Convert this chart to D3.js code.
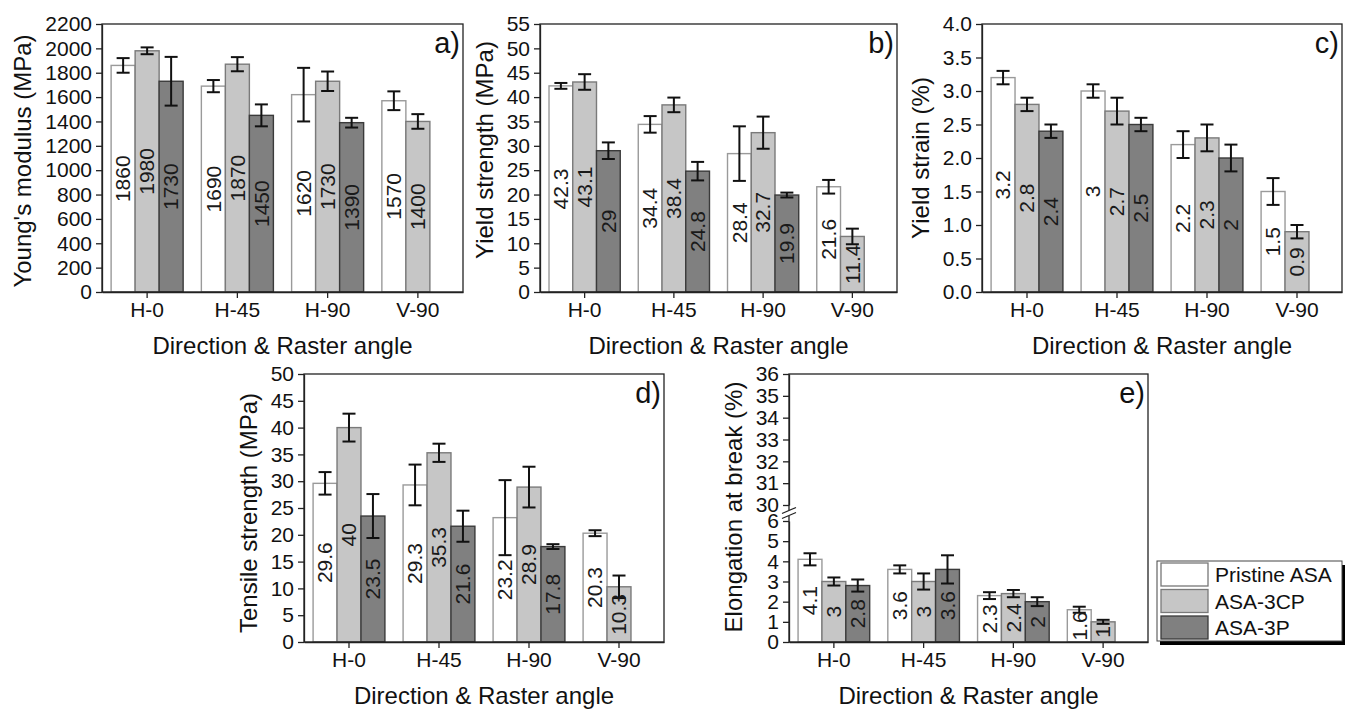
<!DOCTYPE html>
<html>
<head>
<meta charset="utf-8">
<script src="https://cdn.jsdelivr.net/npm/d3@7"></script>
<style>
  html, body { margin: 0; padding: 0; background: #fff; }
  svg { display: block; font-family: "Liberation Sans", Arial, sans-serif; }
</style>
</head>
<body>
<svg id="chart" width="1349" height="711"></svg>
<script>
// ---------------- DATA ----------------
const categories = ["H-0", "H-45", "H-90", "V-90"];
const seriesNames = ["Pristine ASA", "ASA-3CP", "ASA-3P"];
const xTitle = "Direction & Raster angle";

// a) Young's modulus (MPa)
const youngPristine = [1860, 1690, 1620, 1570];
const youngCP       = [1980, 1870, 1730, 1400];
const youngP        = [1730, 1450, 1390, null];
const youngPristineErr = [60, 50, 220, 77];
const youngCPErr       = [28, 58, 80, 60];
const youngPErr        = [200, 90, 40, null];
const youngTicks = [0, 200, 400, 600, 800, 1000, 1200, 1400, 1600, 1800, 2000, 2200];

// b) Yield strength (MPa)
const ysPristine = [42.3, 34.4, 28.4, 21.6];
const ysCP       = [43.1, 38.4, 32.7, 11.4];
const ysP        = [29, 24.8, 19.9, null];
const ysPristineErr = [0.6, 1.7, 5.6, 1.4];
const ysCPErr       = [1.6, 1.5, 3.3, 1.6];
const ysPErr        = [1.7, 1.9, 0.5, null];
const ysTicks = [0, 5, 10, 15, 20, 25, 30, 35, 40, 45, 50, 55];

// c) Yield strain (%)
const yePristine = [3.2, 3, 2.2, 1.5];
const yeCP       = [2.8, 2.7, 2.3, 0.9];
const yeP        = [2.4, 2.5, 2, null];
const yePristineErr = [0.1, 0.1, 0.2, 0.2];
const yeCPErr       = [0.1, 0.2, 0.2, 0.1];
const yePErr        = [0.1, 0.1, 0.2, null];
const yeTicks = [0, 0.5, 1, 1.5, 2, 2.5, 3, 3.5, 4];

// d) Tensile strength (MPa)
const tsPristine = [29.6, 29.3, 23.2, 20.3];
const tsCP       = [40, 35.3, 28.9, 10.3];
const tsP        = [23.5, 21.6, 17.8, null];
const tsPristineErr = [2.1, 3.8, 7, 0.55];
const tsCPErr       = [2.6, 1.7, 3.8, 2.1];
const tsPErr        = [4.1, 2.9, 0.45, null];
const tsTicks = [0, 5, 10, 15, 20, 25, 30, 35, 40, 45, 50];

// e) Elongation at break (%) - broken axis
const ebPristine = [4.1, 3.6, 2.3, 1.6];
const ebCP       = [3, 3, 2.4, 1];
const ebP        = [2.8, 3.6, 2, null];
const ebPristineErr = [0.3, 0.2, 0.17, 0.15];
const ebCPErr       = [0.2, 0.4, 0.18, 0.1];
const ebPErr        = [0.3, 0.7, 0.22, null];
const ebTicksLow  = [0, 1, 2, 3, 4, 5, 6];
const ebTicksHigh = [30, 31, 32, 33, 34, 35, 36];

// ---------------- STYLE ----------------
const FONT = 21;
const fills   = ["#ffffff", "#c6c6c6", "#808080"];
const strokes = ["#9a9a9a", "#7a7a7a", "#3a3a3a"];
const svg = d3.select("#chart");

function panel(cfg) {
  const g = svg.append("g");
  const { left, right, top, bottom } = cfg.box;
  const x = d3.scaleBand().domain(categories).range([left, right]).padding(0);
  const bw = x.bandwidth() * 0.266;

  // y mapping (supports broken axis)
  let yMap, yAxes = [];
  if (cfg.broken) {
    const yLow = d3.scaleLinear().domain([0, 6]).range([bottom, bottom - 121]);
    const yHigh = d3.scaleLinear().domain([30, 36]).range([top + 131, top]);
    yMap = v => (v <= 6 ? yLow(v) : yHigh(v));
    yAxes.push({ scale: yLow, ticks: ebTicksLow, fmt: d3.format("d") });
    yAxes.push({ scale: yHigh, ticks: ebTicksHigh, fmt: d3.format("d") });
  } else {
    const y = d3.scaleLinear().domain([cfg.ticks[0], cfg.ticks[cfg.ticks.length - 1]]).range([bottom, top]);
    yMap = y;
    yAxes.push({ scale: y, ticks: cfg.ticks, fmt: cfg.fmt });
  }

  // bars
  cfg.series.forEach((vals, j) => {
    vals.forEach((v, i) => {
      if (v == null) return;
      const cx = x(categories[i]) + x.bandwidth() / 2 + (j - 1) * bw;
      const y0 = yMap(0), y1 = yMap(v);
      g.append("rect")
        .attr("x", cx - bw / 2).attr("y", y1)
        .attr("width", bw).attr("height", y0 - y1)
        .attr("fill", fills[j]).attr("stroke", strokes[j]).attr("stroke-width", 1.4);
    });
  });
  // error bars
  cfg.series.forEach((vals, j) => {
    vals.forEach((v, i) => {
      if (v == null) return;
      const e = cfg.errors[j][i];
      const cx = x(categories[i]) + x.bandwidth() / 2 + (j - 1) * bw;
      const yt = yMap(v + e), yb = yMap(v - e);
      const eg = g.append("g").attr("stroke", "#111").attr("stroke-width", 2);
      eg.append("line").attr("x1", cx).attr("x2", cx).attr("y1", yt).attr("y2", yb);
      eg.append("line").attr("x1", cx - 6.5).attr("x2", cx + 6.5).attr("y1", yt).attr("y2", yt);
      eg.append("line").attr("x1", cx - 6.5).attr("x2", cx + 6.5).attr("y1", yb).attr("y2", yb);
    });
  });
  // value labels
  cfg.series.forEach((vals, j) => {
    vals.forEach((v, i) => {
      if (v == null) return;
      const cx = x(categories[i]) + x.bandwidth() / 2 + (j - 1) * bw;
      const cy = (yMap(0) + yMap(v)) / 2;
      g.append("text")
        .attr("transform", `translate(${cx},${cy}) rotate(-90)`)
        .attr("text-anchor", "middle").attr("dy", "0.35em")
        .attr("font-size", FONT).attr("fill", "#1a1a1a")
        .text(String(v));
    });
  });

  // frame
  g.append("rect").attr("x", left).attr("y", top)
    .attr("width", right - left).attr("height", bottom - top)
    .attr("fill", "none").attr("stroke", "#222").attr("stroke-width", 1.3);

  // y axis
  const tickGroups = [];
  yAxes.forEach(a => {
    const ag = g.append("g").attr("transform", `translate(${left},0)`)
      .call(d3.axisLeft(a.scale).tickValues(a.ticks).tickFormat(a.fmt).tickSize(6).tickPadding(4).tickSizeOuter(0));
    ag.select(".domain").attr("stroke", "#222").attr("stroke-width", 1.3);
    ag.selectAll(".tick line").attr("stroke", "#222").attr("stroke-width", 1.3);
    ag.selectAll(".tick text").attr("font-size", FONT).attr("fill", "#111")
      .attr("font-family", "Liberation Sans, Arial, sans-serif");
    tickGroups.push(ag);
  });

  if (cfg.broken) {
    // break marks on y axis
    const yb1 = yMap(6), yb2 = yMap(30);
    const mid = (yb1 + yb2) / 2;
    g.append("rect").attr("x", left - 4).attr("y", mid - 3).attr("width", 8).attr("height", 6).attr("fill", "#fff");
    [-2.5, 2.5].forEach(o => {
      g.append("line").attr("x1", left - 7).attr("x2", left + 7)
        .attr("y1", mid + o + 3).attr("y2", mid + o - 3)
        .attr("stroke", "#222").attr("stroke-width", 1.3);
    });
  }

  // x axis
  const xg = g.append("g").attr("transform", `translate(0,${bottom})`)
    .call(d3.axisBottom(x).tickSize(6).tickPadding(4).tickSizeOuter(0));
  xg.select(".domain").attr("stroke", "#222").attr("stroke-width", 1.3);
  xg.selectAll(".tick line").attr("stroke", "#222").attr("stroke-width", 1.3);
  xg.selectAll(".tick text").attr("font-size", FONT).attr("fill", "#111")
    .attr("font-family", "Liberation Sans, Arial, sans-serif");

  // x title
  g.append("text").attr("x", (left + right) / 2).attr("y", bottom + 62)
    .attr("text-anchor", "middle").attr("font-size", 24).attr("fill", "#111").text(xTitle);

  // y title
  let minX = left;
  tickGroups.forEach(tg => {
    tg.selectAll(".tick text").each(function () {
      const b = this.getBBox();
      minX = Math.min(minX, left + b.x);
    });
  });
  const tx = minX - 14;
  const ty = (top + bottom) / 2 + (cfg.titleShift || 0);
  g.append("text").attr("transform", `translate(${tx},${ty}) rotate(-90)`)
    .attr("text-anchor", "middle").attr("font-size", 24).attr("fill", "#111").text(cfg.yTitle);

  // panel letter
  g.append("text").attr("x", right - 3).attr("y", top + 29)
    .attr("text-anchor", "end").attr("font-size", 29).attr("fill", "#111").text(cfg.letter);
}

panel({
  box: { left: 102, right: 463, top: 24, bottom: 292 },
  ticks: youngTicks, fmt: d3.format("d"),
  series: [youngPristine, youngCP, youngP],
  errors: [youngPristineErr, youngCPErr, youngPErr],
  yTitle: "Young's modulus (MPa)", letter: "a)", titleShift: 3
});
panel({
  box: { left: 540, right: 897, top: 24, bottom: 292 },
  ticks: ysTicks, fmt: d3.format("d"),
  series: [ysPristine, ysCP, ysP],
  errors: [ysPristineErr, ysCPErr, ysPErr],
  yTitle: "Yield strength (MPa)", letter: "b)", titleShift: -8
});
panel({
  box: { left: 982, right: 1342, top: 24, bottom: 292 },
  ticks: yeTicks, fmt: d3.format(".1f"),
  series: [yePristine, yeCP, yeP],
  errors: [yePristineErr, yeCPErr, yePErr],
  yTitle: "Yield strain (%)", letter: "c)", titleShift: 0
});
panel({
  box: { left: 304, right: 664, top: 374, bottom: 642 },
  ticks: tsTicks, fmt: d3.format("d"),
  series: [tsPristine, tsCP, tsP],
  errors: [tsPristineErr, tsCPErr, tsPErr],
  yTitle: "Tensile strength (MPa)", letter: "d)", titleShift: 5
});
panel({
  box: { left: 789, right: 1148, top: 374, bottom: 642 },
  broken: true,
  series: [ebPristine, ebCP, ebP],
  errors: [ebPristineErr, ebCPErr, ebPErr],
  yTitle: "Elongation at break (%)", letter: "e)", titleShift: -1
});

// ---------------- LEGEND ----------------
const lg = svg.append("g");
const L = { x: 1157, y: 561, w: 185, h: 80 };
lg.append("rect").attr("x", L.x + 3).attr("y", L.y + 4).attr("width", L.w).attr("height", L.h).attr("fill", "#000");
lg.append("rect").attr("x", L.x).attr("y", L.y).attr("width", L.w).attr("height", L.h)
  .attr("fill", "#fff").attr("stroke", "#444").attr("stroke-width", 1);
seriesNames.forEach((name, j) => {
  const yy = L.y + 2 + j * 26.5;
  lg.append("rect").attr("x", L.x + 4).attr("y", yy).attr("width", 47).attr("height", 23)
    .attr("fill", fills[j]).attr("stroke", j === 0 ? "#777" : strokes[j]).attr("stroke-width", 1.3);
  lg.append("text").attr("x", L.x + 58).attr("y", yy + 19)
    .attr("font-size", FONT).attr("fill", "#111").text(name);
});
</script>
</body>
</html>
